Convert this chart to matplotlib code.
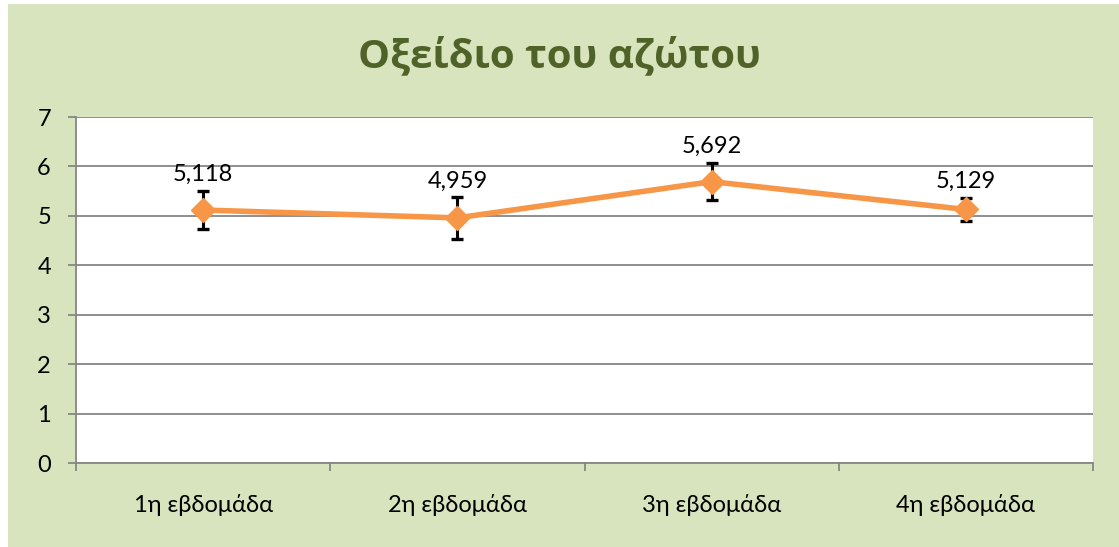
import matplotlib.pyplot as plt
from matplotlib.patches import Rectangle
from matplotlib.ticker import FixedLocator, NullFormatter
import numpy as np

plt.rcParams['font.family'] = ['Lato', 'DejaVu Sans']

weeks = ['1η εβδομάδα', '2η εβδομάδα', '3η εβδομάδα', '4η εβδομάδα']
no2_mean = [5.118, 4.959, 5.692, 5.129]
no2_err = [0.39, 0.42, 0.38, 0.24]
value_labels = ['5,118', '4,959', '5,692', '5,129']

W, H = 1119, 547
fig = plt.figure(figsize=(W / 100, H / 100), dpi=100, facecolor='white')

# green chart background, slightly inset from the top-left
fig.patches.append(Rectangle((8 / W, 0), 1 - 8 / W, 1 - 4 / H,
                             transform=fig.transFigure, facecolor='#D7E4BD',
                             edgecolor='none', zorder=-1))

ax = fig.add_axes([76 / W, 1 - 463 / H, (1093 - 76) / W, (463 - 117) / H])
ax.set_facecolor('white')

x = np.arange(len(weeks))
ax.errorbar(x, no2_mean, yerr=no2_err, fmt='none', ecolor='black',
            elinewidth=2.2, capsize=4.5, capthick=2.4, zorder=3)
ax.plot(x, no2_mean, color='#F79646', lw=4, marker='D', markersize=12,
        markeredgecolor='#F79646', zorder=4)

for xi, yi, err, lab in zip(x, no2_mean, no2_err, value_labels):
    ax.annotate(lab, (xi, yi + err), xytext=(0, 4), textcoords='offset points',
                ha='center', va='bottom', fontsize=17, color='black')

ax.set_xlim(-0.5, len(weeks) - 0.5)
ax.set_ylim(0, 7)
ax.set_yticks(range(0, 8))
ax.yaxis.grid(True, color='#868686', lw=1.3)
ax.set_axisbelow(True)

ax.set_xticks(x)
ax.set_xticklabels(weeks)
ax.xaxis.set_minor_locator(FixedLocator(np.arange(-0.5, len(weeks), 1.0)))
ax.xaxis.set_minor_formatter(NullFormatter())
ax.tick_params(axis='x', which='major', length=0, pad=22, labelsize=17)
ax.tick_params(axis='x', which='minor', length=6, width=1.3, color='#868686')
ax.tick_params(axis='y', length=6, width=1.3, color='#868686', pad=12,
               labelsize=17)

for side in ['top', 'right']:
    ax.spines[side].set_visible(False)
for side in ['left', 'bottom']:
    ax.spines[side].set_color('#868686')
    ax.spines[side].set_linewidth(1.3)

fig.text(0.5, 1 - 56 / H, 'Οξείδιο του αζώτου', ha='center', va='center',
         fontsize=29, fontweight='bold', family=['Open Sans', 'DejaVu Sans'],
         color='#4F6228')

fig.savefig('out.png', dpi=100, facecolor='white')
